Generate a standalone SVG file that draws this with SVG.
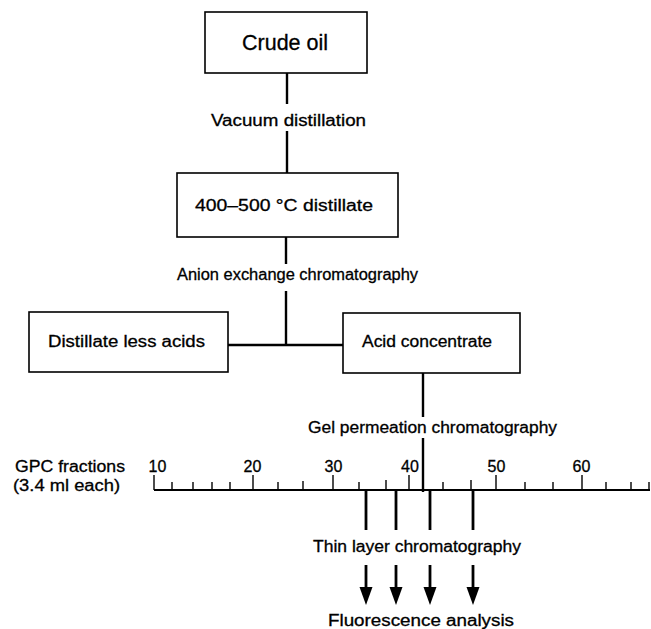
<svg xmlns="http://www.w3.org/2000/svg" width="651" height="629" viewBox="0 0 651 629">
<style>
.box{fill:#fff;stroke:#000;stroke-width:1.6}
.t{font-family:"Liberation Sans",Arial,sans-serif;font-size:16px;fill:#000;stroke:#000;stroke-width:0.3}
.big{font-size:22px}
.n{text-anchor:middle}
.c{stroke:#000;stroke-width:2.4;fill:none}
.ax{stroke:#000;stroke-width:1.8;fill:none}
.tk{stroke:#000;stroke-width:1.4;fill:none}
.dl{stroke:#000;stroke-width:2.8;fill:none}
.hd{fill:#000;stroke:none}
</style>
<rect width="651" height="629" fill="#fff"/>
<g id="connectors">
<line class="c" x1="287" y1="73" x2="287" y2="104"/>
<line class="c" x1="287" y1="131" x2="287" y2="173"/>
<line class="c" x1="286" y1="237" x2="286" y2="264"/>
<line class="c" x1="286" y1="291" x2="286" y2="345"/>
<line class="c" x1="228" y1="345" x2="343" y2="345"/>
<line class="c" x1="423" y1="373" x2="423" y2="417"/>
<line class="c" x1="423" y1="438" x2="423" y2="492"/>
<line class="dl" x1="366" y1="490" x2="366" y2="530"/>
<line class="dl" x1="396" y1="490" x2="396" y2="530"/>
<line class="dl" x1="430" y1="490" x2="430" y2="530"/>
<line class="dl" x1="473" y1="490" x2="473" y2="530"/>
<g id="arrows">
<line class="dl" x1="366" y1="565" x2="366" y2="590"/>
<polygon class="hd" points="359.5,587 372.5,587 366,605"/>
<line class="dl" x1="396" y1="565" x2="396" y2="590"/>
<polygon class="hd" points="389.5,587 402.5,587 396,605"/>
<line class="dl" x1="430" y1="565" x2="430" y2="590"/>
<polygon class="hd" points="423.5,587 436.5,587 430,605"/>
<line class="dl" x1="473" y1="565" x2="473" y2="590"/>
<polygon class="hd" points="466.5,587 479.5,587 473,605"/>
</g>
</g>
<g id="crude-oil">
<rect class="box" x="205" y="12" width="162" height="61"/>
<text class="t big" x="242" y="50" textLength="86" lengthAdjust="spacingAndGlyphs">Crude oil</text>
</g>
<g id="vacuum-label">
<text class="t" x="211" y="126" textLength="155" lengthAdjust="spacingAndGlyphs">Vacuum distillation</text>
</g>
<g id="distillate">
<rect class="box" x="177" y="173" width="221" height="64"/>
<text class="t" x="195" y="211" textLength="178" lengthAdjust="spacingAndGlyphs">400–500 °C distillate</text>
</g>
<g id="anion-label">
<text class="t" x="177" y="280" textLength="241" lengthAdjust="spacingAndGlyphs">Anion exchange chromatography</text>
</g>
<g id="distillate-less-acids">
<rect class="box" x="29" y="312" width="199" height="60"/>
<text class="t" x="48" y="347" textLength="157" lengthAdjust="spacingAndGlyphs">Distillate less acids</text>
</g>
<g id="acid-concentrate">
<rect class="box" x="343" y="313" width="177" height="60"/>
<text class="t" x="362" y="347" textLength="130" lengthAdjust="spacingAndGlyphs">Acid concentrate</text>
</g>
<g id="gpc-label">
<text class="t" x="308" y="433" textLength="249" lengthAdjust="spacingAndGlyphs">Gel permeation chromatography</text>
</g>
<g id="gpc-axis">
<text class="t" x="15" y="472" textLength="110" lengthAdjust="spacingAndGlyphs">GPC fractions</text>
<text class="t" x="13" y="491" textLength="107" lengthAdjust="spacingAndGlyphs">(3.4 ml each)</text>
<line class="ax" x1="154" y1="490" x2="650" y2="490"/>
<g class="tk">
<line x1="154" y1="475" x2="154" y2="490"/>
<line x1="253" y1="475" x2="253" y2="490"/>
<line x1="333" y1="475" x2="333" y2="490"/>
<line x1="409" y1="475" x2="409" y2="490"/>
<line x1="496" y1="475" x2="496" y2="490"/>
<line x1="582" y1="475" x2="582" y2="490"/>
<line x1="172" y1="482" x2="172" y2="490"/>
<line x1="193" y1="482" x2="193" y2="490"/>
<line x1="212" y1="482" x2="212" y2="490"/>
<line x1="230" y1="482" x2="230" y2="490"/>
<line x1="278" y1="482" x2="278" y2="490"/>
<line x1="303" y1="481" x2="303" y2="490"/>
<line x1="359" y1="482" x2="359" y2="490"/>
<line x1="386" y1="480" x2="386" y2="490"/>
<line x1="443" y1="482" x2="443" y2="490"/>
<line x1="471" y1="480" x2="471" y2="490"/>
<line x1="525" y1="482" x2="525" y2="490"/>
<line x1="553" y1="482" x2="553" y2="490"/>
<line x1="606" y1="482" x2="606" y2="490"/>
<line x1="631" y1="482" x2="631" y2="490"/>
<line x1="649" y1="482" x2="649" y2="490"/>
</g>
<text class="t n" x="157.5" y="472">10</text>
<text class="t n" x="252.5" y="472">20</text>
<text class="t n" x="333.5" y="472">30</text>
<text class="t n" x="410" y="472">40</text>
<text class="t n" x="496.5" y="472">50</text>
<text class="t n" x="581.5" y="472">60</text>
</g>
<g id="tlc-label">
<text class="t" x="313" y="552" textLength="208" lengthAdjust="spacingAndGlyphs">Thin layer chromatography</text>
</g>
<g id="fluorescence-label">
<text class="t" x="328" y="626" textLength="186" lengthAdjust="spacingAndGlyphs">Fluorescence analysis</text>
</g>
</svg>
